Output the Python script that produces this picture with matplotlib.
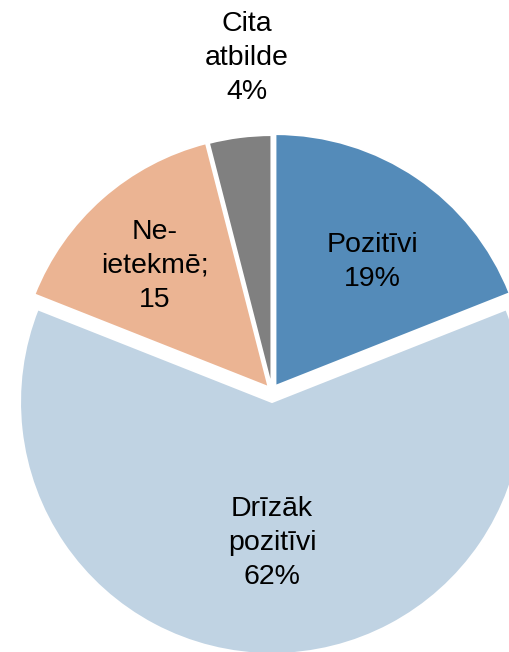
import matplotlib.pyplot as plt

labels = ['Pozitīvi\n19%', 'Drīzāk\npozitīvi\n62%', 'Ne-\nietekmē;\n15', 'Cita\natbilde\n4%']
values = [19, 62, 15, 4]
colors = ['#548BB9', '#C0D3E3', '#EBB493', '#808080']
explode = [6, 11, 5, 4]  # offsets in pixels

# label positions in pixels (x, y from top)
label_pos = [(372, 262), (272, 543), (155, 266), (247, 58)]

W, H = 509, 652
cx, cy, r = 272, 391, 252

plt.rcParams['font.family'] = ['Liberation Sans', 'DejaVu Sans']

fig = plt.figure(figsize=(W / 100, H / 100), dpi=100)
ax = fig.add_axes([0, 0, 1, 1])
ax.pie(values, colors=colors, startangle=90, counterclock=False,
       explode=explode, radius=r, center=(cx, H - cy),
       wedgeprops=dict(edgecolor='white', linewidth=1.5))
ax.set_xlim(0, W)
ax.set_ylim(0, H)
ax.set_aspect('equal')
ax.axis('off')

for lab, (x, y) in zip(labels, label_pos):
    ax.text(x, H - y, lab, ha='center', va='center', fontsize=20.5,
            linespacing=1.4, color='black')

fig.savefig('out.png', dpi=100)
